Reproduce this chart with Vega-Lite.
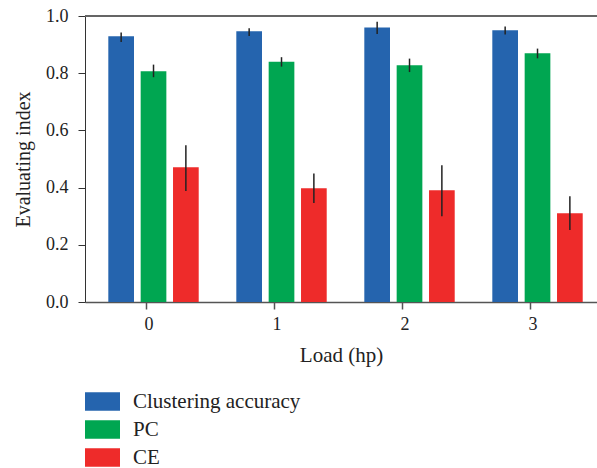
{
  "$schema": "https://vega.github.io/schema/vega-lite/v6.json",
  "autosize": {"type": "none"},
  "padding": {"left": 85, "top": 16, "right": 0, "bottom": 166},
  "width": 512,
  "height": 286,
  "config": {
    "view": {"stroke": null},
    "font": "Liberation Serif",
    "axis": {"labelFont": "Liberation Serif", "titleFont": "Liberation Serif", "grid": false, "labelColor": "#222", "titleColor": "#222", "titleFontWeight": "normal"},
    "legend": {"labelFont": "Liberation Serif"}
  },
  "data": {
    "values": [
      {"load": "0", "metric": "Clustering accuracy", "value": 0.929, "lo": 0.909, "hi": 0.942},
      {"load": "0", "metric": "PC", "value": 0.807, "lo": 0.786, "hi": 0.830},
      {"load": "0", "metric": "CE", "value": 0.471, "lo": 0.388, "hi": 0.548},
      {"load": "1", "metric": "Clustering accuracy", "value": 0.947, "lo": 0.930, "hi": 0.957},
      {"load": "1", "metric": "PC", "value": 0.840, "lo": 0.823, "hi": 0.856},
      {"load": "1", "metric": "CE", "value": 0.398, "lo": 0.346, "hi": 0.449},
      {"load": "2", "metric": "Clustering accuracy", "value": 0.960, "lo": 0.937, "hi": 0.980},
      {"load": "2", "metric": "PC", "value": 0.828, "lo": 0.804, "hi": 0.851},
      {"load": "2", "metric": "CE", "value": 0.391, "lo": 0.300, "hi": 0.478},
      {"load": "3", "metric": "Clustering accuracy", "value": 0.950, "lo": 0.935, "hi": 0.963},
      {"load": "3", "metric": "PC", "value": 0.870, "lo": 0.852, "hi": 0.886},
      {"load": "3", "metric": "CE", "value": 0.310, "lo": 0.252, "hi": 0.370}
    ]
  },
  "encoding": {
    "x": {
      "field": "load", "type": "nominal",
      "scale": {"paddingInner": 0, "paddingOuter": 0},
      "axis": {"title": "Load (hp)", "labelAngle": 0, "bandPosition": 0.482, "titleFontSize": 21, "labelFontSize": 18, "domainColor": "#555", "domainWidth": 1.5, "tickColor": "#555", "tickWidth": 1.5, "tickSize": 7, "labelPadding": 6, "titlePadding": 11}
    },
    "xOffset": {
      "field": "metric", "type": "nominal",
      "scale": {"domain": ["Clustering accuracy", "PC", "CE"], "paddingInner": 0.206, "paddingOuter": 0.581, "align": 0.62}
    }
  },
  "layer": [
    {
      "mark": {"type": "bar"},
      "encoding": {
        "y": {
          "field": "value", "type": "quantitative",
          "scale": {"domain": [0, 1]},
          "axis": {"title": "Evaluating index", "values": [0, 0.2, 0.4, 0.6, 0.8, 1.0], "format": ".1f", "titleFontSize": 20, "labelFontSize": 18, "domainColor": "#333", "tickColor": "#333", "tickSize": 7, "labelPadding": 10, "titlePadding": 12}
        },
        "color": {
          "field": "metric", "type": "nominal",
          "scale": {"domain": ["Clustering accuracy", "PC", "CE"], "range": ["#2564ae", "#00a651", "#ee2b2a"]},
          "legend": {
            "title": null, "orient": "none", "legendX": 0, "legendY": 368,
            "direction": "vertical",
            "symbolType": "M-1,-0.53H1V0.53H-1Z", "symbolSize": 1225,
            "symbolStrokeWidth": 0, "symbolOpacity": 1,
            "labelFontSize": 21, "labelLimit": 400, "labelColor": "#222", "labelOffset": 13, "rowPadding": -1
          }
        }
      }
    },
    {
      "mark": {"type": "rule", "color": "#222", "strokeWidth": 1.5},
      "encoding": {
        "y": {"field": "lo", "type": "quantitative"},
        "y2": {"field": "hi"}
      }
    },
    {
      "mark": {"type": "rule", "color": "#666", "strokeWidth": 1.5},
      "encoding": {"y": {"datum": 1}, "x": null, "xOffset": null}
    }
  ]
}
